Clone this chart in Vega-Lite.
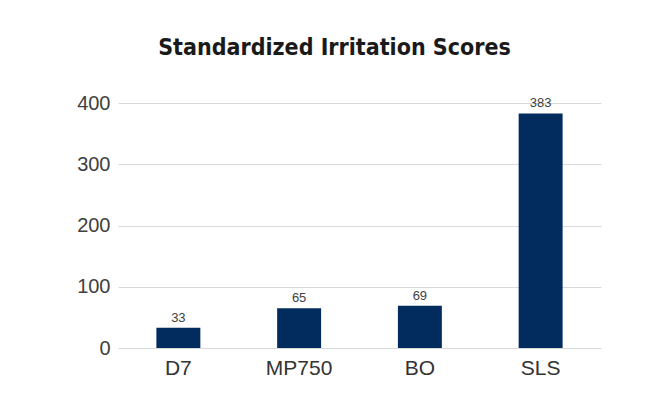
{
  "$schema": "https://vega.github.io/schema/vega-lite/v6.json",
  "autosize": {"type": "none"},
  "width": 483,
  "height": 245,
  "padding": {"left": 118, "top": 103, "right": 50, "bottom": 56},
  "background": "white",
  "title": {
    "text": "Standardized Irritation Scores",
    "font": "DejaVu Sans Condensed, sans-serif",
    "fontSize": 23,
    "fontWeight": "bold",
    "color": "#1a1a1a",
    "anchor": "middle",
    "dx": -25,
    "offset": 33
  },
  "data": {
    "values": [
      {"product": "D7", "score": 33},
      {"product": "MP750", "score": 65},
      {"product": "BO", "score": 69},
      {"product": "SLS", "score": 383}
    ]
  },
  "encoding": {
    "x": {
      "field": "product",
      "type": "nominal",
      "sort": null,
      "scale": {"paddingInner": 0.636, "paddingOuter": 0.318},
      "axis": {
        "title": null,
        "labelAngle": 0,
        "domain": false,
        "ticks": false,
        "labelFont": "Liberation Sans, Arial, sans-serif",
        "labelFontSize": 21,
        "labelColor": "#333333",
        "labelPadding": 9
      }
    },
    "y": {
      "field": "score",
      "type": "quantitative",
      "scale": {"domain": [0, 400], "nice": false},
      "axis": {
        "title": null,
        "values": [0, 100, 200, 300, 400],
        "domain": false,
        "ticks": false,
        "gridColor": "#d9d9d9",
        "gridWidth": 1,
        "labelFont": "Liberation Sans, Arial, sans-serif",
        "labelFontSize": 20,
        "labelColor": "#404040",
        "labelPadding": 8
      }
    }
  },
  "layer": [
    {"mark": {"type": "bar", "color": "#022b5e"}},
    {
      "mark": {"type": "text", "baseline": "bottom", "dy": -3, "font": "Liberation Sans, Arial, sans-serif", "fontSize": 13, "color": "#404040"},
      "encoding": {"text": {"field": "score", "type": "quantitative"}}
    }
  ],
  "config": {"view": {"stroke": null}}
}
